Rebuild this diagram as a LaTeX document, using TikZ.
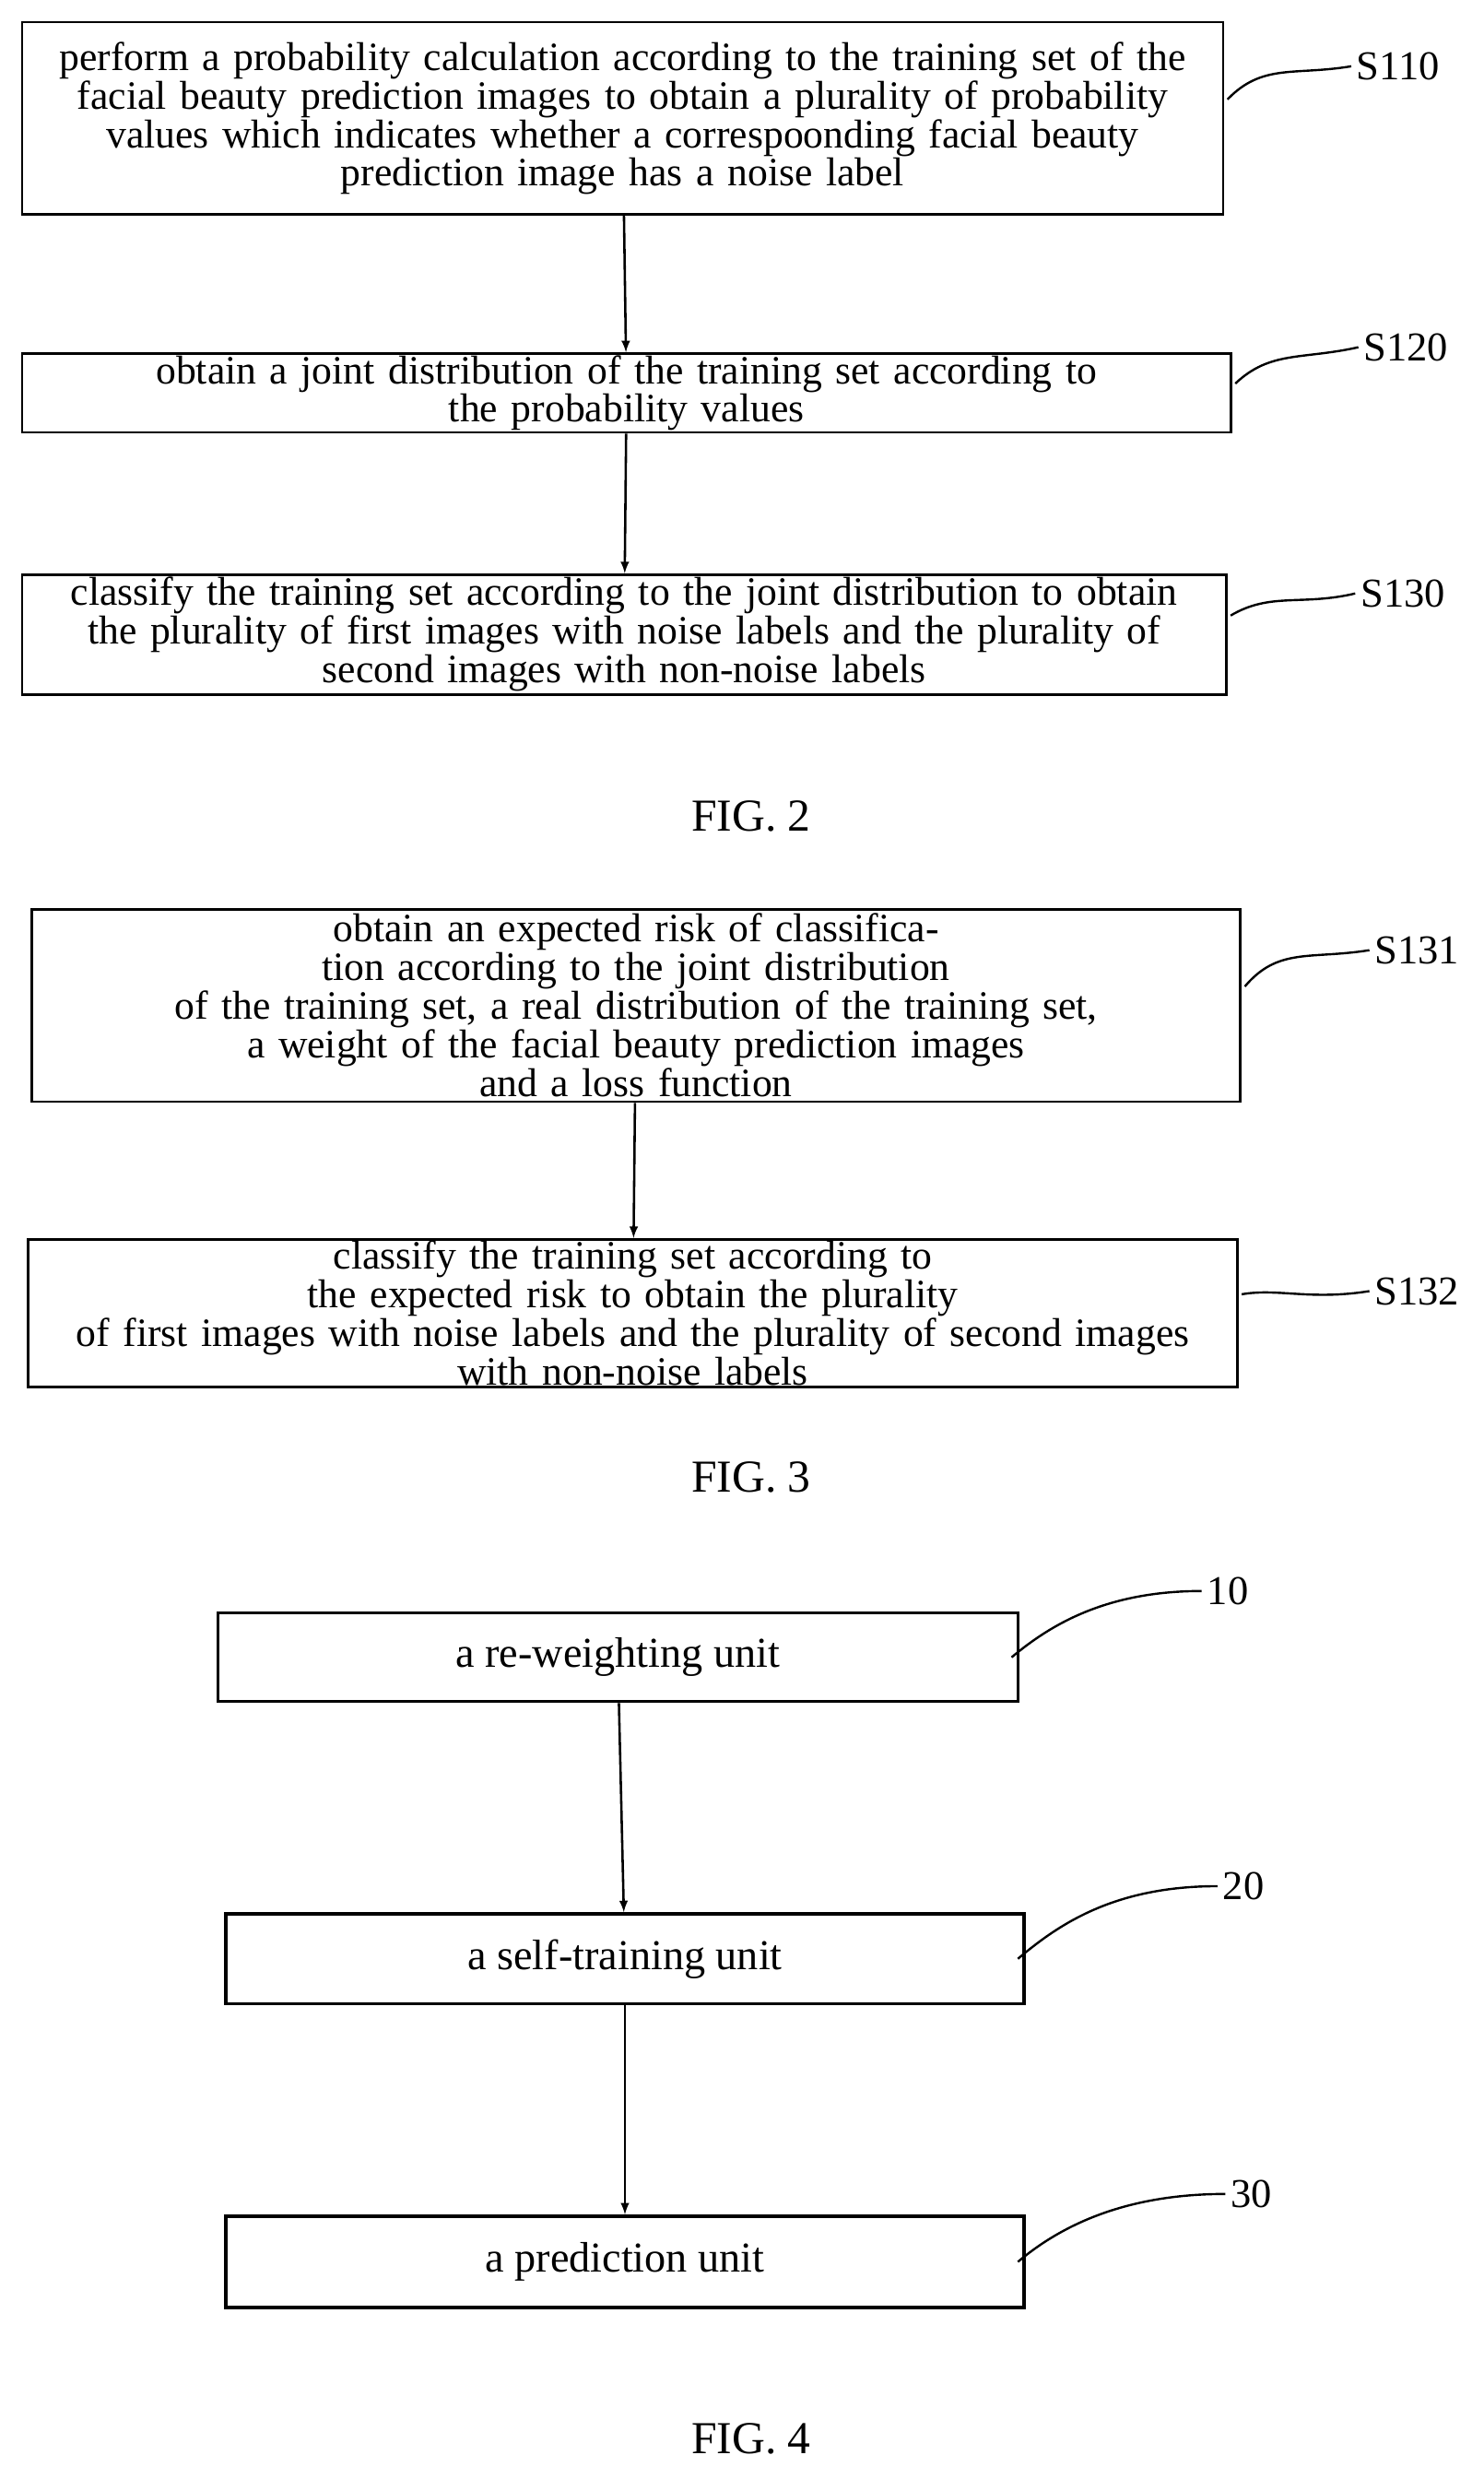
\documentclass[tikz,border=0pt]{standalone}
\usepackage{fontspec}
\setmainfont{Liberation Serif}
\tikzset{
  stage/.style={draw,rectangle,line width=1.6pt,inner sep=1pt,align=center,font=\fontsize{25.5}{24.5}\selectfont},
  unit/.style={draw,rectangle,line width=2pt,align=center,font=\fontsize{27}{28}\selectfont},
  tag/.style={font=\fontsize{26}{28}\selectfont},
  fig/.style={font=\fontsize{29}{30}\selectfont},
  lead/.style={line width=1.4pt},
  flow/.style={->,line width=1.5pt,>=latex},
}
\begin{document}
\begin{tikzpicture}[x=1pt,y=-1pt]
  \useasboundingbox (0,0) rectangle (940,1563);
  % FIG. 2
  \node (S110) at (394.5,75) [stage,minimum width=761,minimum height=122,text width=755] {perform a probability calculation according to the training set of the\\facial beauty prediction images to obtain a plurality of probability\\values which indicates whether a correspoonding facial beauty\\prediction image has a noise label};
  \node (S120) at (397,249) [stage,minimum width=766,minimum height=42,text width=755] {obtain a joint distribution of the training set according to\\the probability values};
  \node (S130) at (395.5,402) [stage,minimum width=763,minimum height=76,text width=755] {classify the training set according to the joint distribution to obtain\\the plurality of first images with noise labels and the plurality of\\second images with non-noise labels};
  \node (t110) at (886,42) [tag] {S110};
  \node (t120) at (891,220) [tag] {S120};
  \node (t130) at (889,376) [tag] {S130};
  \draw [flow] (S110) -- (S120);
  \draw [flow] (S120) -- (S130);
  \draw [lead] (S110.east) ++(2,-12) coordinate (c110) .. controls (800,40) and (820,48) .. (t110.west);
  \draw [lead] (S120.east) ++(2,-6) coordinate (c120) .. controls (805,222) and (825,228) .. (t120.west);
  \draw [lead] (S130.east) ++(2,-12) coordinate (c130) .. controls (805,375) and (825,384) .. (t130.west);
  \node (fig2) at (476,517) [fig] {FIG. 2};
  % FIG. 3
  \node (S131) at (403,637) [stage,minimum width=766,minimum height=122,text width=760] {obtain an expected risk of classification according to the joint distribution\\of the training set, a real distribution of the training set,\\a weight of the facial beauty prediction images\\and a loss function};
  \node (S132) at (401,832) [stage,minimum width=766,minimum height=80,text width=760] {classify the training set according to the expected risk to obtain the plurality\\of first images with noise labels and the plurality of second images\\with non-noise labels};
  \node (t131) at (898,602) [tag] {S131};
  \node (t132) at (898,818) [tag] {S132};
  \draw [flow] (S131) -- (S132);
  \draw [lead] (S131.east) ++(2,-12) coordinate (c131) .. controls (810,600) and (830,608) .. (t131.west);
  \draw [lead] (S132.east) ++(2,-12) coordinate (c132) .. controls (810,816) and (830,824) .. (t132.west);
  \node (fig3) at (476,936) [fig] {FIG. 3};
  % FIG. 4
  \node (U10) at (391.5,1050) [unit,minimum width=507,minimum height=56] {a re-weighting unit};
  \node (U20) at (396,1241) [unit,minimum width=506,minimum height=57] {a self-training unit};
  \node (U30) at (396,1433) [unit,minimum width=506,minimum height=58] {a prediction unit};
  \node (t10) at (778,1008) [tag] {10};
  \node (t20) at (788,1195) [tag] {20};
  \node (t30) at (793,1390) [tag] {30};
  \draw [flow] (U10) -- (U20);
  \draw [flow] (U20) -- (U30);
  \draw [lead] (U10.east) ++(-5,0) coordinate (c10) .. controls (665,1030) and (700,1008) .. (t10.west);
  \draw [lead] (U20.east) ++(-5,0) coordinate (c20) .. controls (670,1220) and (705,1195) .. (t20.west);
  \draw [lead] (U30.east) ++(-5,0) coordinate (c30) .. controls (670,1412) and (710,1390) .. (t30.west);
  \node (fig4) at (476,1545) [fig] {FIG. 4};
\end{tikzpicture}
\end{document}
